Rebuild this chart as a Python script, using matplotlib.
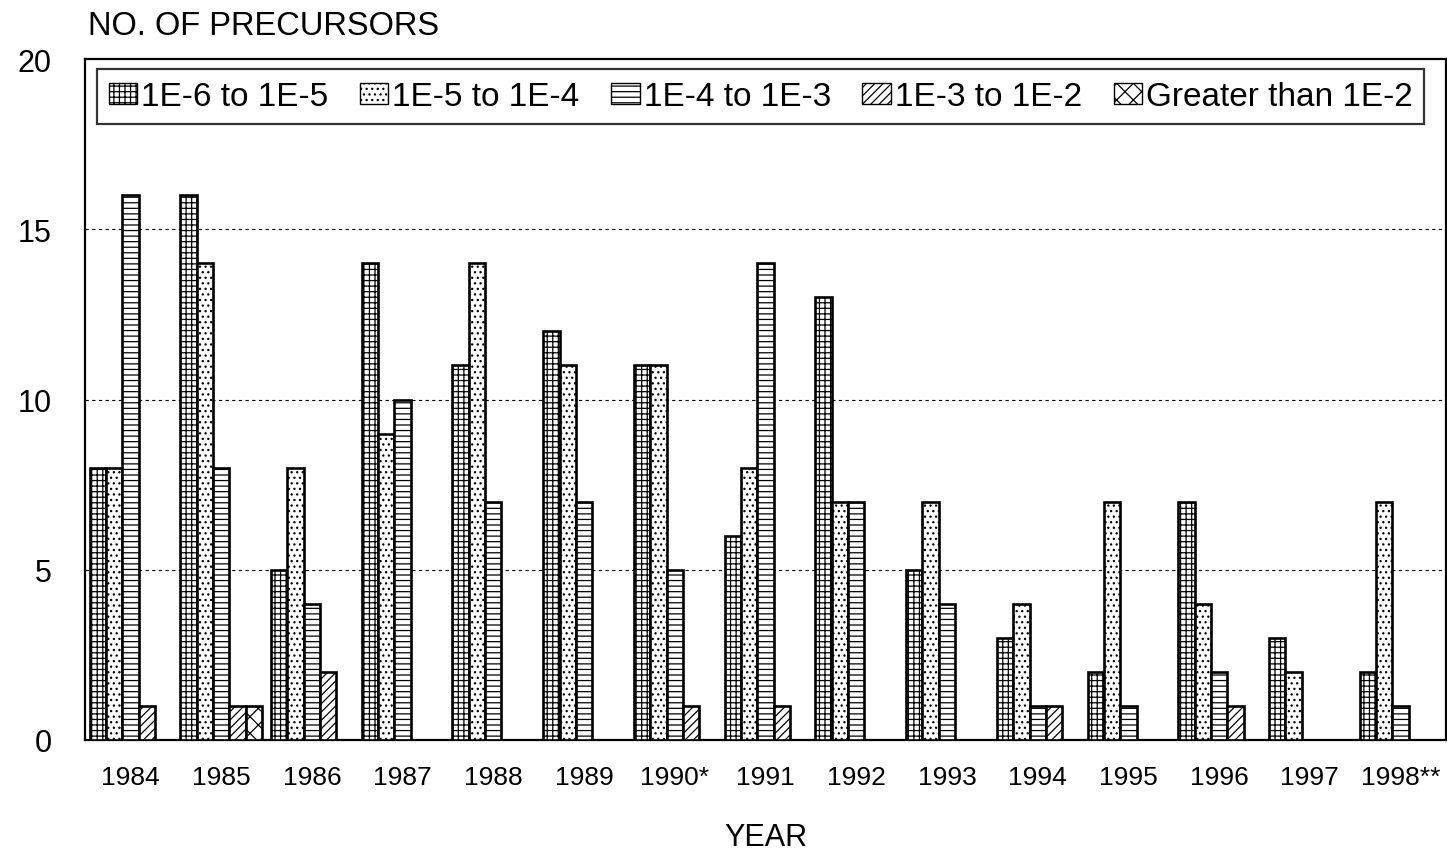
import numpy as np
import matplotlib
matplotlib.use("Agg")
from matplotlib import pyplot as plt

# data
years = ["1984", "1985", "1986", "1987", "1988", "1989", "1990*", "1991",
         "1992", "1993", "1994", "1995", "1996", "1997", "1998**"]
series_names = ["1E-6 to 1E-5", "1E-5 to 1E-4", "1E-4 to 1E-3",
                "1E-3 to 1E-2", "Greater than 1E-2"]
s_1e6 = [8, 16, 5, 14, 11, 12, 11, 6, 13, 5, 3, 2, 7, 3, 2]
s_1e5 = [8, 14, 8, 9, 14, 11, 11, 8, 7, 7, 4, 7, 4, 2, 7]
s_1e4 = [16, 8, 4, 10, 7, 7, 5, 14, 7, 4, 1, 1, 2, 0, 1]
s_1e3 = [1, 1, 2, 0, 0, 0, 1, 1, 0, 0, 1, 0, 1, 0, 0]
s_1e2 = [0, 1, 0, 0, 0, 0, 0, 0, 0, 0, 0, 0, 0, 0, 0]

all_series = [s_1e6, s_1e5, s_1e4, s_1e3, s_1e2]
hatches = ["+++", "...", "---", "////", "xx"]

plt.rcParams["font.family"] = ["Liberation Sans", "DejaVu Sans"]
plt.rcParams["hatch.linewidth"] = 0.9

fig = plt.figure(figsize=(14.47, 8.53), dpi=100)
ax = fig.add_axes([85 / 1447, 1 - 741 / 853, 1361 / 1447, (741 - 60) / 853])

x = np.arange(len(years))
w = 0.18
handles = []
for i, (vals, h, name) in enumerate(zip(all_series, hatches, series_names)):
    vals = np.array(vals, dtype=float)
    # zero bars are not drawn in the original
    v = np.where(vals > 0, vals, np.nan)
    b = ax.bar(x + (i - 2) * w, v, w, color="white", edgecolor="black",
               linewidth=1.9, hatch=h, label=name, zorder=3)
    handles.append(b)

ax.set_xlim(-0.5, len(years) - 0.5)
ax.set_ylim(0, 20)
ax.set_yticks([0, 5, 10, 15, 20])
ax.set_xticks(x)
ax.set_xticklabels(years)
ax.tick_params(axis="both", length=0)
ax.tick_params(axis="x", pad=18, labelsize=19)
ax.tick_params(axis="y", pad=24, labelsize=22)

for yv in [5, 10, 15]:
    ax.axhline(yv, color="black", linewidth=0.8, linestyle=(0, (3, 3)), zorder=1)

for sp in ax.spines.values():
    sp.set_linewidth(1.6)

ax.set_xlabel("YEAR", fontsize=22, labelpad=24)
fig.text(88 / 1447, 1 - 35 / 853, "NO. OF PRECURSORS", fontsize=23.5,
         ha="left", va="baseline")

leg = ax.legend(handles=handles, loc="upper left", ncol=5, fontsize=24,
                frameon=True, fancybox=False, edgecolor="black",
                bbox_to_anchor=(12 / 1361, 0.985),
                handlelength=0.85, handleheight=0.6, handletextpad=0.12,
                columnspacing=0.95, borderpad=0.35, borderaxespad=0.0)
leg.get_frame().set_linewidth(1.6)
for p in leg.get_patches():
    p.set_linewidth(1.0)

fig.savefig("out.png", dpi=100)
